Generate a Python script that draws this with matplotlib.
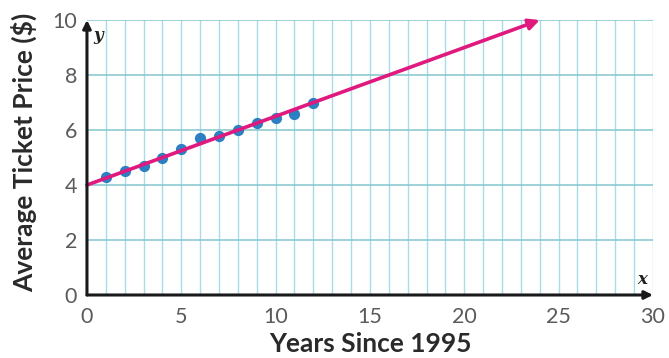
import matplotlib
matplotlib.use("Agg")
import matplotlib.pyplot as plt

# data
years = [1, 2, 3, 4, 5, 6, 7, 8, 9, 10, 11, 12]
prices = [4.3, 4.5, 4.7, 5.0, 5.3, 5.7, 5.8, 6.0, 6.25, 6.45, 6.6, 7.0]
fit_intercept = 4.0
fit_slope = 0.25
fit_x_end = 24

x_ticks = [0, 5, 10, 15, 20, 25, 30]
y_ticks = [0, 2, 4, 6, 8, 10]

plt.rcParams["font.family"] = ["Lato", "DejaVu Sans"]

fig = plt.figure(figsize=(6.69, 3.58), dpi=100)
ax = fig.add_axes([0.130, 0.176, 0.846, 0.768])
ax.set_xlim(0, 30)
ax.set_ylim(0, 10)

# grid
for x in range(1, 31):
    ax.axvline(x, color="#a6dde7", lw=1.0, zorder=1)
for y in range(2, 11, 2):
    ax.axhline(y, color="#8cc9d2", lw=1.2, zorder=1)

for s in ax.spines.values():
    s.set_visible(False)

# axes with arrows
ax.annotate("", xy=(30, 0), xytext=(0, 0), annotation_clip=False,
            arrowprops=dict(arrowstyle="-|>", color="#1a1a1a", lw=2.2,
                            mutation_scale=12, shrinkA=0, shrinkB=0), zorder=5)
ax.annotate("", xy=(0, 10), xytext=(0, 0), annotation_clip=False,
            arrowprops=dict(arrowstyle="-|>", color="#1a1a1a", lw=2.2,
                            mutation_scale=12, shrinkA=0, shrinkB=0), zorder=5)
ax.text(0.35, 9.75, "y", style="italic", fontweight="bold", fontsize=12,
        color="#222222", ha="left", va="top", family="DejaVu Serif")
ax.text(29.7, 0.25, "x", style="italic", fontweight="bold", fontsize=12,
        color="#222222", ha="right", va="bottom", family="DejaVu Serif")

# points and trend line
ax.scatter(years, prices, s=50, color="#2c7fc1", zorder=3)
ax.annotate("", xy=(fit_x_end, fit_intercept + fit_slope * fit_x_end),
            xytext=(0, fit_intercept), annotation_clip=False,
            arrowprops=dict(arrowstyle="-|>", color="#e0197f", lw=2.6,
                            mutation_scale=16, shrinkA=0, shrinkB=0), zorder=4)

ax.set_xticks(x_ticks)
ax.set_yticks(y_ticks)
ax.tick_params(length=0, labelsize=15.5, labelcolor="#5a5a5a")
ax.tick_params(axis="x", pad=9)
ax.tick_params(axis="y", pad=7)

ax.set_xlabel("Years Since 1995", fontsize=19, fontweight="bold",
              color="#2a2a2a", va="center")
ax.xaxis.set_label_coords(0.5, -0.18)
ax.set_ylabel("Average Ticket Price ($)", fontsize=19, fontweight="bold",
              color="#2a2a2a", va="center")
ax.yaxis.set_label_coords(-0.112, 0.52)

fig.savefig("out.png", dpi=100, facecolor="white")
